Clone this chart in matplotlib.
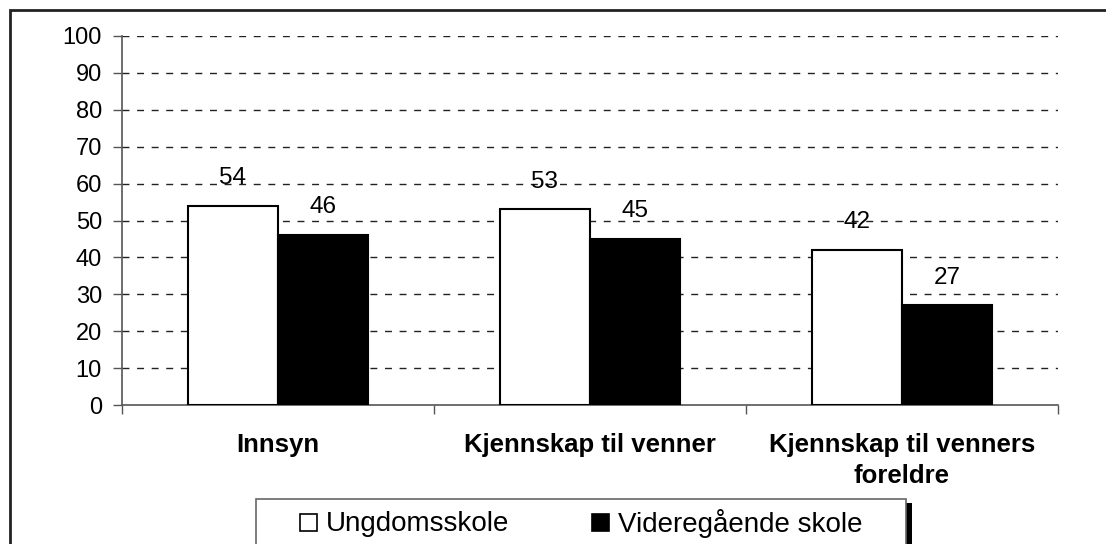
""" Bar chart: Ungdomsskole vs Videregaende skole """

import numpy as np
import matplotlib
matplotlib.use("Agg")
import matplotlib.pyplot as plt
from matplotlib.patches import Rectangle

categories = ["Innsyn", "Kjennskap til venner", "Kjennskap til venners\nforeldre"]
series_names = ["Ungdomsskole", "Videregående skole"]
ungdom = [54, 53, 42]
videregaende = [46, 45, 27]
y_ticks = list(range(0, 101, 10))

plt.rcParams["font.family"] = ["Liberation Sans", "DejaVu Sans"]

W, H = 1106, 544
fig = plt.figure(figsize=(W / 100, H / 100), dpi=100)
ax = fig.add_axes([122 / W, 1 - 405 / H, (1058 - 122) / W, (405 - 36) / H])

x = np.arange(len(categories)) + 0.5
width = 0.29

bars_u = ax.bar(x - width / 2, ungdom, width, color="white", edgecolor="black",
                linewidth=1.5, zorder=3)
bars_v = ax.bar(x + width / 2, videregaende, width, color="black", edgecolor="black",
                linewidth=1.5, zorder=3)

for bars, vals in ((bars_u, ungdom), (bars_v, videregaende)):
    for b, v in zip(bars, vals):
        ax.annotate(str(v), (b.get_x() + b.get_width() / 2, v),
                    xytext=(0, 20), textcoords="offset points",
                    ha="center", va="center", fontsize=17.5, zorder=4)

ax.set_xlim(0, len(categories))
ax.set_ylim(0, 100)
ax.set_yticks(y_ticks)
ax.tick_params(axis="y", direction="out", length=6.5, width=1, color="#555555",
               labelsize=17, pad=8)

# category boundaries carry the tick marks, centres carry the labels
ax.set_xticks(np.arange(len(categories) + 1))
ax.set_xticklabels([])
ax.set_xticks(x, minor=True)
ax.set_xticklabels(categories, minor=True, fontsize=18.5, fontweight="bold",
                   linespacing=1.4)
ax.tick_params(axis="x", which="major", direction="out", length=6.5, width=1,
               color="#555555")
ax.tick_params(axis="x", which="minor", length=0, pad=20)

for yv in y_ticks[1:]:
    ax.axhline(yv, color="#222222", linewidth=1, dashes=(5, 5.5), zorder=1)

for s in ("top", "right"):
    ax.spines[s].set_visible(False)
for s in ("left", "bottom"):
    ax.spines[s].set_color("#555555")
    ax.spines[s].set_linewidth(1.2)

# outer frame (runs off the right and bottom edges)
fig.patches.append(Rectangle((10 / W, -0.1), 1.2, 1.1 - 10 / H,
                             transform=fig.transFigure, fill=False,
                             edgecolor="#222222", linewidth=2))

# legend box with shadow
fig.patches.append(Rectangle((906 / W, -0.1), 6 / W, 0.1 + 1 - 503 / H,
                             transform=fig.transFigure, facecolor="black",
                             edgecolor="none"))
fig.patches.append(Rectangle((256 / W, -0.1), 650 / W, 0.1 + 1 - 499 / H,
                             transform=fig.transFigure, facecolor="white",
                             edgecolor="#666666", linewidth=1.2))

legend_items = [(300, "white", series_names[0]), (592, "black", series_names[1])]
for lx, col, name in legend_items:
    fig.patches.append(Rectangle((lx / W, 1 - 531 / H), 17 / W, 17 / H,
                                 transform=fig.transFigure, facecolor=col,
                                 edgecolor="black", linewidth=1.2))
    fig.text((lx + 26) / W, 1 - 524 / H, name, fontsize=20, va="center",
             ha="left")

fig.savefig("out.png", dpi=100)
